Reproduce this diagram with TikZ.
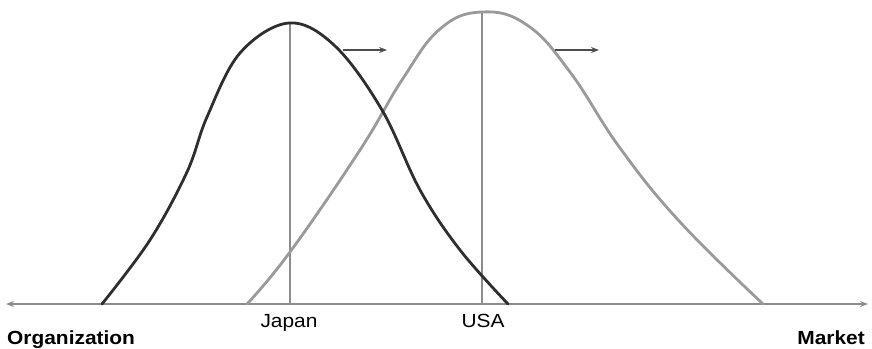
\documentclass[tikz,border=0pt]{standalone}
\usepackage{fontspec}
\setmainfont{Liberation Sans}
\usetikzlibrary{arrows.meta}
\definecolor{darkcurve}{HTML}{2E2E2E}
\definecolor{lightcurve}{HTML}{9A9A9A}
\definecolor{axisgray}{HTML}{8C8C8C}
\tikzset{
  curveA/.style={draw=darkcurve, line width=2.8pt, line cap=round, smooth, tension=0.6},
  curveB/.style={draw=lightcurve, line width=2.8pt, line cap=round, smooth, tension=0.7},
  vline/.style={draw=axisgray, line width=1.2pt},
  axisline/.style={draw=axisgray, line width=1.2pt, {Stealth[length=8pt,width=6pt]}-{Stealth[length=8pt,width=6pt]}},
  shiftarrow/.style={draw=darkcurve!85, line width=1.1pt, -{Stealth[length=8pt,width=6pt]}},
  country/.style={inner sep=0pt, anchor=base, font=\fontsize{19}{21}\selectfont},
  endlabel/.style={inner sep=0pt, font=\fontsize{19}{21}\selectfont\bfseries}
}
\newcommand{\wide}[1]{\scalebox{1.1}[1]{#1}}
\begin{document}
\begin{tikzpicture}[x=1pt,y=-1pt]
\useasboundingbox (0,0) rectangle (872,348);
% vertical lines
\coordinate (jtop) at (290,23);
\coordinate (jbot) at (290,304);
\coordinate (utop) at (482,12);
\coordinate (ubot) at (482,304);
\draw[vline] (jtop) -- (jbot);
\draw[vline] (utop) -- (ubot);
% axis
\coordinate (axL) at (6,304);
\coordinate (axR) at (868,304);
\draw[axisline] (axL) -- (axR);
% grey (USA) curve
\draw[curveB] plot coordinates {(247,304) (290,252) (360,150) (402,80) (440,29) (482,12) (527,25) (570,72) (620,148) (680,222) (763,304)};
% dark (Japan) curve
\draw[curveA] plot coordinates {(102,304) (150,240) (187,172) (207,117) (240,53) (289,23) (335,46) (382,110) (420,190) (460,250) (508,304)};
% shift arrows
\coordinate (a1s) at (343,50);
\coordinate (a1e) at (387,50);
\coordinate (a2s) at (555,50);
\coordinate (a2e) at (599,50);
\draw[shiftarrow] (a1s) -- (a1e);
\draw[shiftarrow] (a2s) -- (a2e);
% labels
\node[country] (japan) at (289,327) {\wide{Japan}};
\node[country] (usa) at (483,327) {\wide{USA}};
\node[endlabel, anchor=base west] (org) at (7,344) {\wide{Organization}};
\node[endlabel, anchor=base east] (mkt) at (865,344) {\wide{Market}};
\end{tikzpicture}
\end{document}
